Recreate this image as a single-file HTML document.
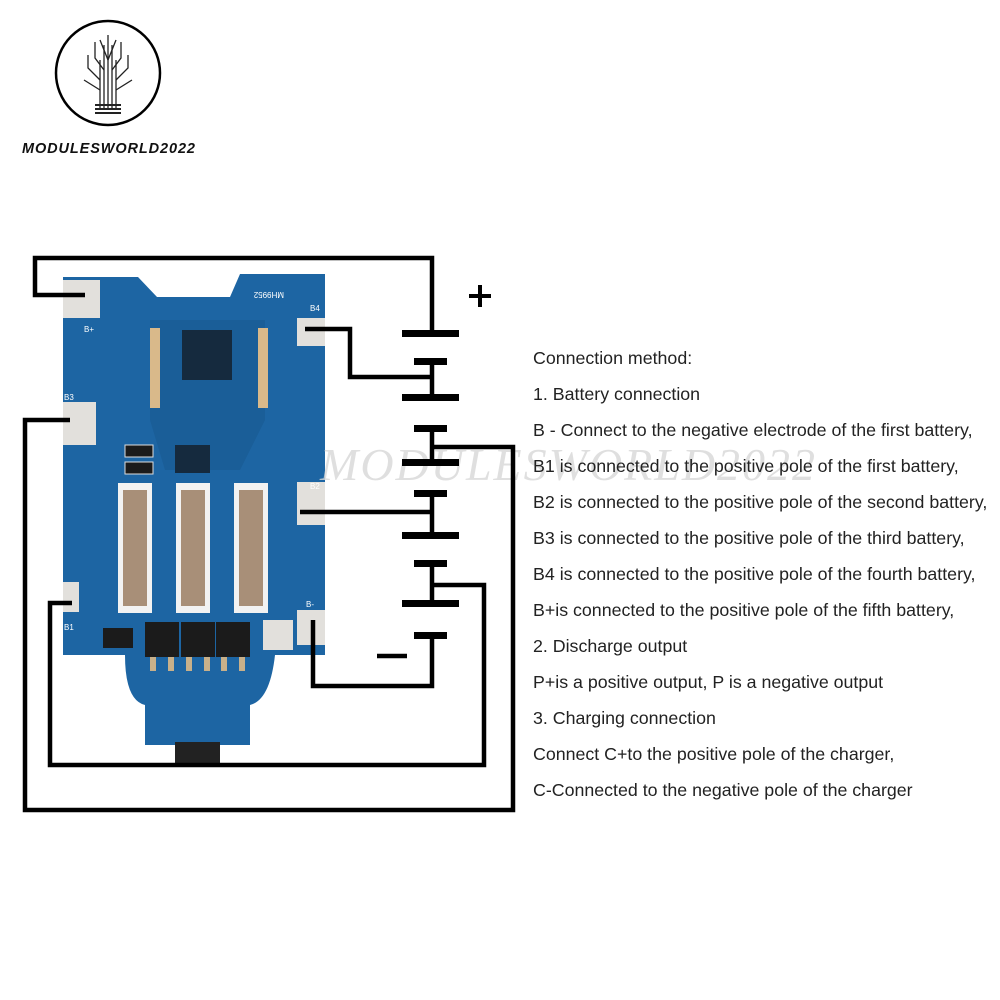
<!DOCTYPE html>
<html><head><meta charset="utf-8"><style>
body{margin:0;width:1000px;height:1000px;background:#fff;overflow:hidden;position:relative;font-family:"Liberation Sans",sans-serif}
.t{position:absolute;left:533px;font-size:17.8px;color:#222;white-space:nowrap}
</style></head><body>
<svg width="1000" height="1000" style="position:absolute;left:0;top:0">
<circle cx="108" cy="73" r="52" fill="none" stroke="#000" stroke-width="2.5"/>
<g stroke="#222" stroke-width="1.3" fill="none">
<path d="M100 110V60M104 110V45M108 110V35M112 110V45M116 110V60"/>
<path d="M100 80L88 68V55M104 70L95 58V42M112 70L121 58V42M116 80L128 68V55M100 90L84 80M116 90L132 80M108 60L100 40M108 60L116 40"/>
</g>
<rect x="95" y="104" width="26" height="2" fill="#222"/><rect x="95" y="108" width="26" height="2" fill="#222"/><rect x="95" y="112" width="26" height="2" fill="#222"/>
<text x="22" y="153" font-family="Liberation Sans,sans-serif" font-style="italic" font-weight="bold" font-size="14.5" fill="#111" textLength="173">MODULESWORLD2022</text>
<path d="M63 277H138L157 297H230L240 274H325V655H275Q270 700 250 705V745H145V705Q125 700 125 655H63Z" fill="#1d65a3"/>
<path d="M150 320H265V420L240 470H165L150 420Z" fill="#1a5e98"/>
<rect x="182" y="330" width="50" height="50" fill="#152a3e"/>
<rect x="175" y="445" width="35" height="28" fill="#152a3e"/>
<rect x="125" y="445" width="28" height="12" fill="#1b1b1b" stroke="#ddd"/>
<rect x="125" y="462" width="28" height="12" fill="#1b1b1b" stroke="#ddd"/>
<g fill="#d9b98a"><rect x="150" y="328" width="10" height="80"/><rect x="258" y="328" width="10" height="80"/></g>
<g fill="#e2e0dc">
<rect x="63" y="280" width="37" height="38"/><rect x="63" y="402" width="33" height="43"/>
<rect x="63" y="582" width="16" height="30"/><rect x="297" y="318" width="28" height="28"/>
<rect x="297" y="482" width="28" height="43"/><rect x="297" y="610" width="28" height="35"/>
<rect x="263" y="620" width="30" height="30"/>
</g>
<g fill="#fff" font-size="8" font-family="Liberation Sans,sans-serif"><text x="84" y="332">B+</text><text x="64" y="400">B3</text><text x="64" y="630">B1</text><text x="310" y="311">B4</text><text x="310" y="489">B2</text><text x="306" y="607">B-</text><text x="240" y="300" transform="rotate(180 262 296)">MH9952</text></g>
<g fill="#f2f2f2"><rect x="118" y="483" width="34" height="130"/><rect x="176" y="483" width="34" height="130"/><rect x="234" y="483" width="34" height="130"/></g>
<g fill="#a88f78"><rect x="123" y="490" width="24" height="116"/><rect x="181" y="490" width="24" height="116"/><rect x="239" y="490" width="24" height="116"/></g>
<g fill="#1b1b1b"><rect x="145" y="622" width="34" height="35"/><rect x="181" y="622" width="34" height="35"/><rect x="216" y="622" width="34" height="35"/><rect x="103" y="628" width="30" height="20"/></g>
<g fill="#c8b08a"><rect x="150" y="657" width="6" height="14"/><rect x="168" y="657" width="6" height="14"/><rect x="186" y="657" width="6" height="14"/><rect x="204" y="657" width="6" height="14"/><rect x="221" y="657" width="6" height="14"/><rect x="239" y="657" width="6" height="14"/></g>
<rect x="175" y="742" width="45" height="24" fill="#222"/>
<text x="320" y="480" font-family="Liberation Serif,serif" font-style="italic" font-size="46" fill="#d8d8d8" opacity="0.8" textLength="495">MODULESWORLD2022</text>
<g fill="none" stroke="#000" stroke-width="4.5">
<path d="M85 295H35V258H432V333"/>
<path d="M305 329H350V377H432"/>
<path d="M432 362V397M432 428V462M432 493V535M432 563V603M432 635V686H313V620"/>
<path d="M432 447H513V810H25V420H70"/>
<path d="M432 585H484V765H50V603H72"/>
<path d="M300 512H432"/>
<path d="M377 656H407"/>
<path d="M480 285V307M469 296H491" stroke-width="4"/>
</g>
<g fill="#000">
<rect x="402" y="330" width="57" height="7"/><rect x="414" y="358" width="33" height="7"/>
<rect x="402" y="394" width="57" height="7"/><rect x="414" y="425" width="33" height="7"/>
<rect x="402" y="459" width="57" height="7"/><rect x="414" y="490" width="33" height="7"/>
<rect x="402" y="532" width="57" height="7"/><rect x="414" y="560" width="33" height="7"/>
<rect x="402" y="600" width="57" height="7"/><rect x="414" y="632" width="33" height="7"/>
</g>
</svg>
<div class="t" style="top:348px">Connection method:</div>
<div class="t" style="top:384px">1. Battery connection</div>
<div class="t" style="top:420px">B - Connect to the negative electrode of the first battery,</div>
<div class="t" style="top:456px">B1 is connected to the positive pole of the first battery,</div>
<div class="t" style="top:492px">B2 is connected to the positive pole of the second battery,</div>
<div class="t" style="top:528px">B3 is connected to the positive pole of the third battery,</div>
<div class="t" style="top:564px">B4 is connected to the positive pole of the fourth battery,</div>
<div class="t" style="top:600px">B+is connected to the positive pole of the fifth battery,</div>
<div class="t" style="top:636px">2. Discharge output</div>
<div class="t" style="top:672px">P+is a positive output, P is a negative output</div>
<div class="t" style="top:708px">3. Charging connection</div>
<div class="t" style="top:744px">Connect C+to the positive pole of the charger,</div>
<div class="t" style="top:780px">C-Connected to the negative pole of the charger</div>
</body></html>
